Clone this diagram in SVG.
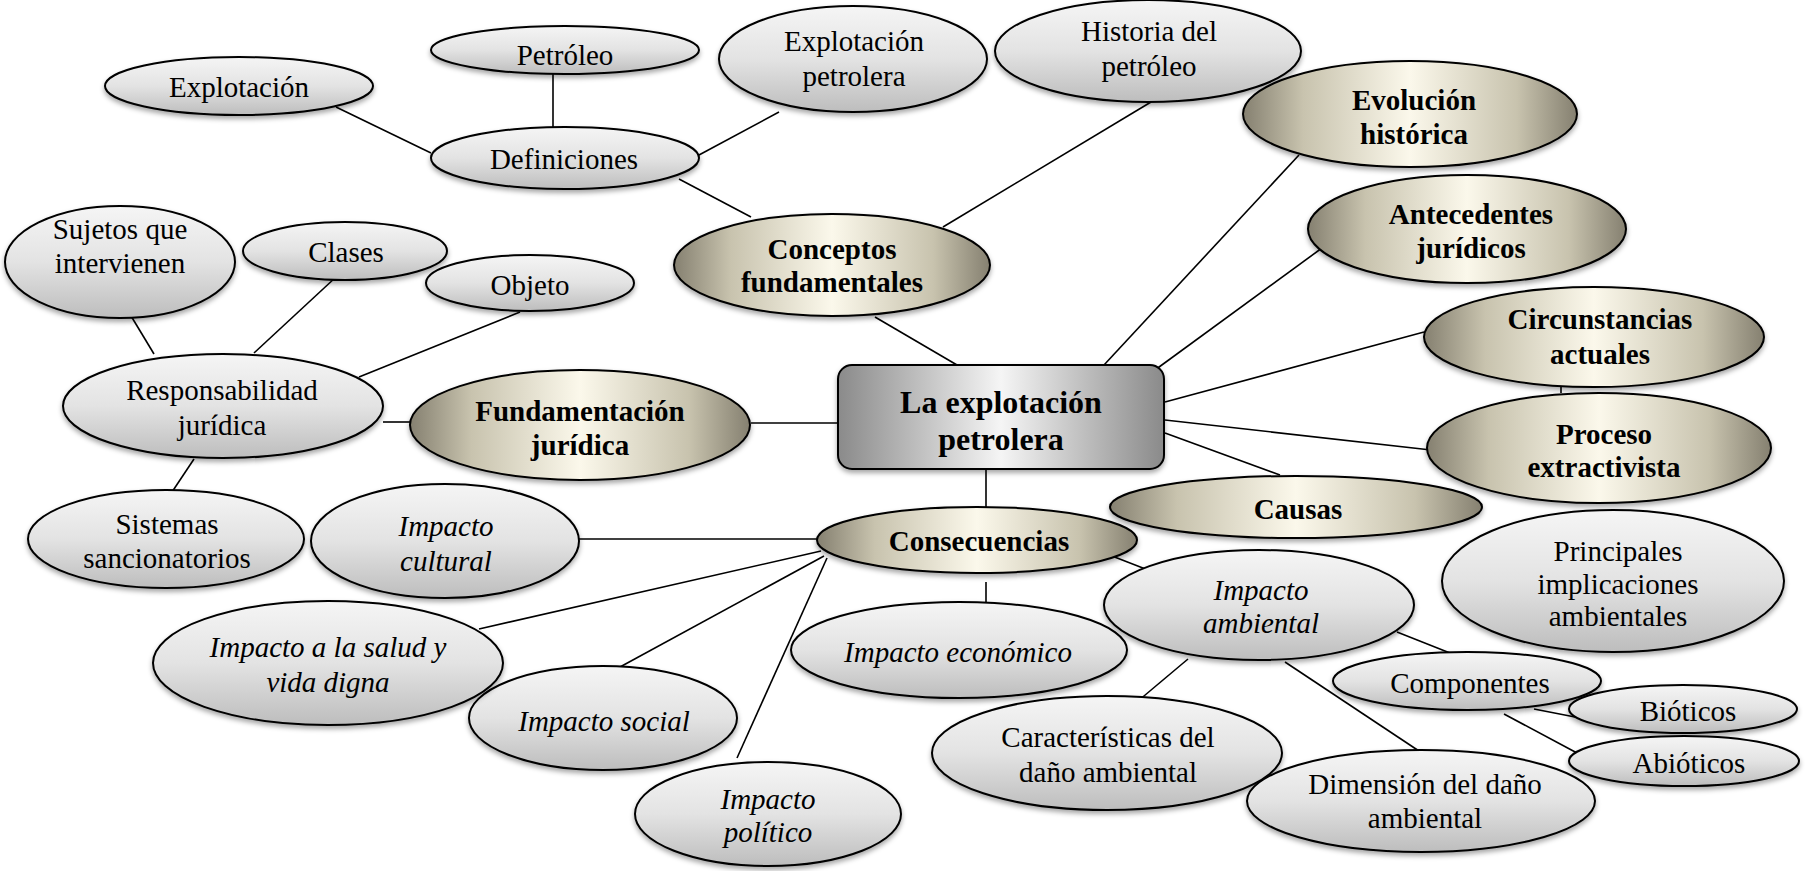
<svg xmlns="http://www.w3.org/2000/svg" width="1806" height="871" viewBox="0 0 1806 871">
<defs>
<linearGradient id="gGray" x1="0" y1="0" x2="0" y2="1">
<stop offset="0" stop-color="#f5f5f5"/>
<stop offset="0.5" stop-color="#e3e3e3"/>
<stop offset="1" stop-color="#bdbdbd"/>
</linearGradient>
<linearGradient id="gBeige" x1="0" y1="0" x2="1" y2="0">
<stop offset="0" stop-color="#858070"/>
<stop offset="0.18" stop-color="#c8c3ae"/>
<stop offset="0.5" stop-color="#fbf8eb"/>
<stop offset="0.82" stop-color="#c8c3ae"/>
<stop offset="1" stop-color="#858070"/>
</linearGradient>
<linearGradient id="gBox" x1="0" y1="0" x2="1" y2="0">
<stop offset="0" stop-color="#8a8a8a"/>
<stop offset="0.5" stop-color="#f5f5f5"/>
<stop offset="1" stop-color="#8a8a8a"/>
</linearGradient>
<filter id="sh" x="-10%" y="-10%" width="120%" height="130%">
<feDropShadow dx="0" dy="3" stdDeviation="2.5" flood-color="#000" flood-opacity="0.35"/>
</filter>
</defs>
<style>
.g{fill:url(#gGray);stroke:#000;stroke-width:2;filter:url(#sh)}
.b{fill:url(#gBeige);stroke:#000;stroke-width:2;filter:url(#sh)}
.x{fill:url(#gBox);stroke:#000;stroke-width:2;filter:url(#sh)}
text{font-family:"Liberation Serif","Times New Roman",serif;font-size:29px;fill:#000;text-anchor:middle}
.bt{font-weight:bold}
.it{font-style:italic}
.big{font-size:32px;font-weight:bold}
#connectors line{stroke:#000;stroke-width:1.6}
</style>
<rect width="1806" height="871" fill="#fff"/>
<g id="connectors">
<line x1="336" y1="107" x2="431" y2="153"/>
<line x1="553" y1="74" x2="553" y2="127"/>
<line x1="699" y1="155" x2="779" y2="112"/>
<line x1="679" y1="179" x2="751" y2="217"/>
<line x1="875" y1="317" x2="957" y2="365"/>
<line x1="1151" y1="102" x2="943" y2="227"/>
<line x1="1299" y1="155" x2="1104" y2="365"/>
<line x1="1322" y1="248" x2="1155" y2="370"/>
<line x1="1424" y1="332" x2="1165" y2="402"/>
<line x1="1561" y1="386" x2="1561" y2="393"/>
<line x1="1165" y1="420" x2="1431" y2="450"/>
<line x1="1165" y1="433" x2="1280" y2="475"/>
<line x1="986" y1="469" x2="986" y2="507"/>
<line x1="986" y1="582" x2="986" y2="602"/>
<line x1="1112" y1="556" x2="1148" y2="570"/>
<line x1="1397" y1="632" x2="1450" y2="653"/>
<line x1="1188" y1="659" x2="1138" y2="701"/>
<line x1="1285" y1="662" x2="1425" y2="755"/>
<line x1="1534" y1="709" x2="1575" y2="717"/>
<line x1="1504" y1="714" x2="1577" y2="753"/>
<line x1="751" y1="423" x2="838" y2="423"/>
<line x1="383" y1="422" x2="410" y2="422"/>
<line x1="122" y1="301" x2="154" y2="354"/>
<line x1="336" y1="277" x2="254" y2="353"/>
<line x1="520" y1="312" x2="359" y2="377"/>
<line x1="194" y1="459" x2="170" y2="495"/>
<line x1="577" y1="539" x2="820" y2="539"/>
<line x1="821" y1="551" x2="479" y2="629"/>
<line x1="824" y1="556" x2="620" y2="667"/>
<line x1="827" y1="558" x2="737" y2="758"/>
</g>
<g id="n-explotacion"><ellipse class="g" cx="239" cy="86" rx="134" ry="29"/><text x="239" y="97">Explotación</text></g>
<g id="n-petroleo"><ellipse class="g" cx="565" cy="50" rx="134" ry="24"/><text x="565" y="65">Petróleo</text></g>
<g id="n-explotacion-petrolera"><ellipse class="g" cx="853" cy="59" rx="134" ry="53"/><text x="854" y="51">Explotación</text><text x="854" y="86">petrolera</text></g>
<g id="n-historia"><ellipse class="g" cx="1148" cy="51" rx="153" ry="51"/><text x="1149" y="41">Historia del</text><text x="1149" y="76">petróleo</text></g>
<g id="n-definiciones"><ellipse class="g" cx="565" cy="158" rx="134" ry="31"/><text x="564" y="169">Definiciones</text></g>
<g id="n-conceptos"><ellipse class="b" cx="832" cy="265" rx="158" ry="51"/><text class="bt" x="832" y="259">Conceptos</text><text class="bt" x="832" y="292">fundamentales</text></g>
<g id="n-sujetos"><ellipse class="g" cx="120" cy="262" rx="115" ry="56"/><text x="120" y="239">Sujetos que</text><text x="120" y="273">intervienen</text></g>
<g id="n-clases"><ellipse class="g" cx="345" cy="251" rx="102" ry="29"/><text x="346" y="262">Clases</text></g>
<g id="n-objeto"><ellipse class="g" cx="530" cy="283" rx="104" ry="28"/><text x="530" y="295">Objeto</text></g>
<g id="n-responsabilidad"><ellipse class="g" cx="223" cy="406" rx="160" ry="52"/><text x="222" y="400">Responsabilidad</text><text x="222" y="435">jurídica</text></g>
<g id="n-fundamentacion"><ellipse class="b" cx="580" cy="425" rx="170" ry="55"/><text class="bt" x="580" y="421">Fundamentación</text><text class="bt" x="580" y="455">jurídica</text></g>
<g id="n-central"><rect class="x" x="838" y="365" width="326" height="104" rx="14"/><text class="big" x="1001" y="413">La explotación</text><text class="big" x="1001" y="450">petrolera</text></g>
<g id="n-evolucion"><ellipse class="b" cx="1410" cy="114" rx="167" ry="53"/><text class="bt" x="1414" y="110">Evolución</text><text class="bt" x="1414" y="144">histórica</text></g>
<g id="n-antecedentes"><ellipse class="b" cx="1467" cy="229" rx="159" ry="54"/><text class="bt" x="1471" y="224">Antecedentes</text><text class="bt" x="1471" y="258">jurídicos</text></g>
<g id="n-principales"><ellipse class="g" cx="1613" cy="581" rx="171" ry="71"/><text x="1618" y="561">Principales</text><text x="1618" y="594">implicaciones</text><text x="1618" y="626">ambientales</text></g>
<g id="n-circunstancias"><ellipse class="b" cx="1594" cy="337" rx="170" ry="50"/><text class="bt" x="1600" y="329">Circunstancias</text><text class="bt" x="1600" y="364">actuales</text></g>
<g id="n-proceso"><ellipse class="b" cx="1599" cy="448" rx="172" ry="55"/><text class="bt" x="1604" y="444">Proceso</text><text class="bt" x="1604" y="477">extractivista</text></g>
<g id="n-causas"><ellipse class="b" cx="1296" cy="507" rx="186" ry="31"/><text class="bt" x="1298" y="519">Causas</text></g>
<g id="n-consecuencias"><ellipse class="b" cx="977" cy="540" rx="160" ry="33"/><text class="bt" x="979" y="551">Consecuencias</text></g>
<g id="n-economico"><ellipse class="g" cx="959" cy="650" rx="168" ry="48"/><text class="it" x="958" y="662">Impacto económico</text></g>
<g id="n-ambiental"><ellipse class="g" cx="1259" cy="605" rx="155" ry="55"/><text class="it" x="1261" y="600">Impacto</text><text class="it" x="1261" y="633">ambiental</text></g>
<g id="n-componentes"><ellipse class="g" cx="1467" cy="681" rx="134" ry="29"/><text x="1470" y="693">Componentes</text></g>
<g id="n-bioticos"><ellipse class="g" cx="1683" cy="709" rx="114" ry="24"/><text x="1688" y="721">Bióticos</text></g>
<g id="n-abioticos"><ellipse class="g" cx="1684" cy="761" rx="115" ry="25"/><text x="1689" y="773">Abióticos</text></g>
<g id="n-caracteristicas"><ellipse class="g" cx="1107" cy="753" rx="175" ry="57"/><text x="1108" y="747">Características del</text><text x="1108" y="782">daño ambiental</text></g>
<g id="n-dimension"><ellipse class="g" cx="1421" cy="801" rx="174" ry="51"/><text x="1425" y="794">Dimensión del daño</text><text x="1425" y="828">ambiental</text></g>
<g id="n-sistemas"><ellipse class="g" cx="166" cy="539" rx="138" ry="49"/><text x="167" y="534">Sistemas</text><text x="167" y="568">sancionatorios</text></g>
<g id="n-cultural"><ellipse class="g" cx="445" cy="541" rx="134" ry="57"/><text class="it" x="446" y="536">Impacto</text><text class="it" x="446" y="571">cultural</text></g>
<g id="n-social"><ellipse class="g" cx="603" cy="718" rx="134" ry="52"/><text class="it" x="604" y="731">Impacto social</text></g>
<g id="n-salud"><ellipse class="g" cx="328" cy="663" rx="175" ry="62"/><text class="it" x="328" y="657">Impacto a la salud y</text><text class="it" x="328" y="692">vida digna</text></g>
<g id="n-politico"><ellipse class="g" cx="768" cy="814" rx="133" ry="52"/><text class="it" x="768" y="809">Impacto</text><text class="it" x="768" y="842">político</text></g>
</svg>
